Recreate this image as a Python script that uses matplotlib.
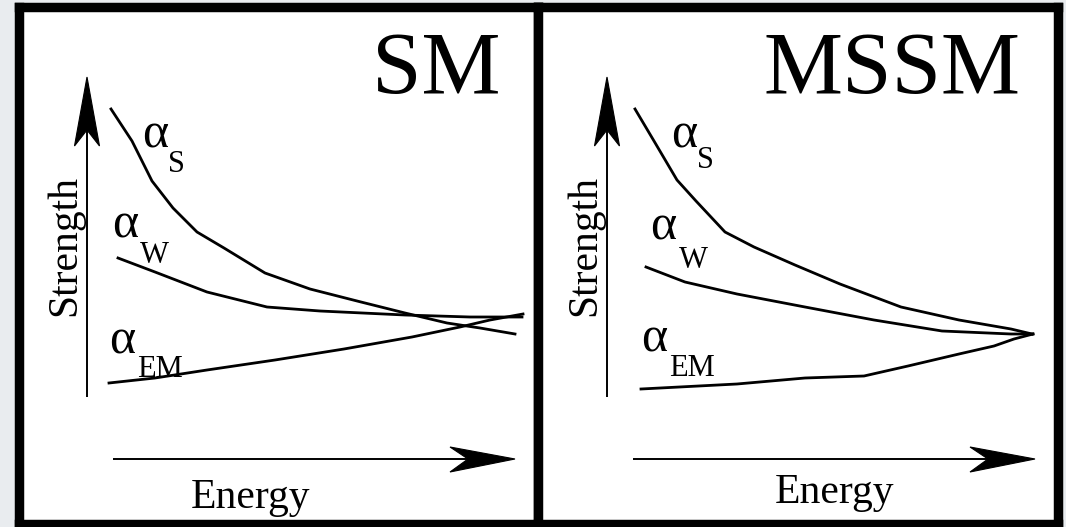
import matplotlib
matplotlib.use("Agg")
from matplotlib import pyplot as plt
from matplotlib.patches import Polygon

plt.rcParams['font.family'] = ['Liberation Serif', 'DejaVu Serif']

# panel titles
panely = ["SM", "MSSM"]

# krivky vazebnych konstant (energie, sila), libovolne jednotky
sm_s_energie = [88, 109, 129, 150, 174, 201, 242, 287, 338, 382, 424, 457, 492]
sm_s_sila = [411, 379, 339, 312, 288, 272, 247, 231, 218, 207, 197, 192, 186]
sm_w_energie = [95, 132, 184, 244, 297, 382, 447, 499]
sm_w_sila = [262, 248, 228, 213, 209, 205, 203, 203]
sm_em_energie = [86, 132, 184, 252, 321, 389, 437, 467, 500]
sm_em_sila = [137, 142, 150, 160, 171, 183, 193, 200, 206]

mssm_s_energie = [92, 111, 134, 153, 182, 211, 252, 297, 358, 416, 468, 489]
mssm_s_sila = [411, 379, 340, 319, 288, 273, 255, 236, 213, 200, 191, 186]
mssm_w_energie = [103, 142, 194, 262, 331, 399, 468, 490]
mssm_w_sila = [253, 238, 226, 213, 200, 189, 186, 186]
mssm_em_energie = [98, 194, 262, 321, 365, 416, 451, 471, 490]
mssm_em_sila = [131, 136, 142, 144, 154, 166, 174, 181, 186]

krivky = [
    [(sm_s_energie, sm_s_sila), (sm_w_energie, sm_w_sila), (sm_em_energie, sm_em_sila)],
    [(mssm_s_energie, mssm_s_sila), (mssm_w_energie, mssm_w_sila), (mssm_em_energie, mssm_em_sila)],
]

# popisky alfa: (x, y alfa, x, y indexu, index)
popisky = [
    [(119, 372, 145, 348, "S"), (89, 283, 117, 257, "W"), (86, 167, 114, 143, "EM")],
    [(128, 372, 154, 352, "S"), (107, 280, 136, 252, "W"), (98, 169, 126, 144, "EM")],
]

W, H = 1066, 527
fig = plt.figure(figsize=(W / 100, H / 100), dpi=100, facecolor="#e9ecef")

# pozice panelu v pixelech (stred cerneho ramecku)
okraje = [(18.5, 538), (538, 1058)]
top_px, bottom_px = 7, 524

for i, (x0, x1) in enumerate(okraje):
    ax = fig.add_axes([x0 / W, (H - bottom_px) / H, (x1 - x0) / W, (bottom_px - top_px) / H])
    ax.set_facecolor("white")
    # lokalni souradnice: 0 = vnitrni levy/spodni okraj panelu
    lx = x0 - (23 if i == 0 else 543)
    ax.set_xlim(lx, lx + (x1 - x0))
    ax.set_ylim(520 - bottom_px, 520 - top_px)
    ax.set_xticks([])
    ax.set_yticks([])
    for s in ax.spines.values():
        s.set_linewidth(6.8)
        s.set_color("black")

    # osy se sipkami
    ax.plot([64, 64], [123, 400], color="black", lw=1.4, solid_capstyle="butt")
    ax.add_patch(Polygon([(64, 443), (76.5, 374), (64, 390), (51.5, 374)], closed=True,
                         facecolor="black", edgecolor="black", lw=0.8))
    ax.plot([90, 450], [61, 61], color="black", lw=1.4, solid_capstyle="butt")
    ax.add_patch(Polygon([(492, 61), (427, 48), (445, 61), (427, 73)], closed=True,
                         facecolor="black", edgecolor="black", lw=0.8))

    for e, s in krivky[i]:
        ax.plot(e, s, color="black", lw=2.0, solid_joinstyle="round")

    for ax_, ay_, sx, sy, idx in popisky[i]:
        ax.text(ax_, ay_, "α", fontsize=36, ha="left", va="baseline")
        ax.text(sx, sy, idx, fontsize=22, ha="left", va="baseline")

    ax.text(478, 427, panely[i], fontsize=64, ha="right", va="baseline")
    ax.text(228 if i == 0 else 291, 12 if i == 0 else 17, "Energy", fontsize=30,
            ha="center", va="baseline")
    ax.text(61, 275, "Strength", fontsize=30, rotation=90, ha="right", va="center")

fig.savefig("out.png", dpi=100, facecolor=fig.get_facecolor())
